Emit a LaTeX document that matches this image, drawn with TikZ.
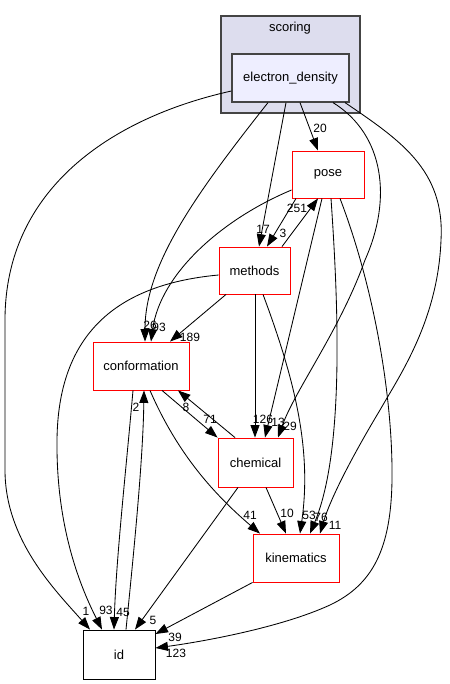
\documentclass[tikz,border=0pt]{standalone}
\usepackage{fontspec}
\setmainfont{Liberation Sans}
\usetikzlibrary{arrows.meta}
\definecolor{clfill}{RGB}{221,221,238}
\definecolor{edfill}{RGB}{238,238,255}
\definecolor{clline}{RGB}{68,68,68}
\definecolor{boxred}{RGB}{255,0,0}
\begin{document}
\begin{tikzpicture}[x=1pt,y=-1pt,
  nodebox/.style={draw=boxred, line width=0.9pt, inner sep=0pt, fill=white, font=\fontsize{13}{15}\selectfont},
  plainbox/.style={draw=black, line width=0.9pt, inner sep=0pt, fill=white, font=\fontsize{13}{15}\selectfont},
  edbox/.style={draw=clline, line width=1.2pt, inner sep=0pt, fill=edfill, font=\fontsize{13}{15}\selectfont},
  clusterbox/.style={draw=clline, line width=1.1pt, inner sep=0pt, fill=clfill},
  lbl/.style={font=\fontsize{12}{14}\selectfont, inner sep=0pt},
  edge/.style={line width=0.85pt, -{Triangle[length=12.5pt,width=9pt]}}]
\useasboundingbox (0,0) rectangle (449,684);
\node[clusterbox, minimum width=139pt, minimum height=97pt] (scoring) at (290.5,64.5) {};
\node[inner sep=0pt, font=\fontsize{13}{15}\selectfont] (scoringlbl) at (290,28) {scoring};
\node[edbox, minimum width=117pt, minimum height=48pt] (ed) at (290.5,78) {electron\_density};
\node[nodebox, minimum width=72pt, minimum height=47pt] (pose) at (328,174.5) {pose};
\node[nodebox, minimum width=71pt, minimum height=47pt] (methods) at (254.5,270.5) {methods};
\node[nodebox, minimum width=96pt, minimum height=48pt] (conf) at (141,366) {conformation};
\node[nodebox, minimum width=75pt, minimum height=49pt] (chem) at (255.5,462.5) {chemical};
\node[nodebox, minimum width=86pt, minimum height=48pt] (kin) at (296,558) {kinematics};
\node[plainbox, minimum width=72pt, minimum height=49pt] (id) at (119,654.5) {id};

% edges
\draw[edge] ([yshift=-13pt]ed.west) .. controls (110,118) and (5,190) .. (5,320) -- (5,470) .. controls (5,540) and (55,590) .. ([xshift=-29pt]id.north);
\draw[edge] ([xshift=-22.5pt]ed.south) .. controls (195,195) and (145,265) .. ([xshift=4pt]conf.north);
\draw[edge] ([yshift=-15.5pt]pose.west) .. controls (220,220) and (160,275) .. ([xshift=10pt]conf.north);
\draw[edge] ([xshift=-28.5pt]methods.south) -- ([xshift=29pt]conf.north);
\draw[edge] ([yshift=-4.5pt]methods.west) .. controls (110,285) and (58,340) .. (57,440) .. controls (56,530) and (82,590) .. ([xshift=-17pt]id.north);
\draw[edge] ([xshift=-8pt]conf.south) .. controls (126,470) and (116,560) .. ([xshift=-5pt]id.north);
\draw[edge] ([xshift=7pt]id.north) .. controls (134,550) and (143,460) .. ([xshift=3pt]conf.south);
\draw[edge] ([xshift=9pt]conf.south) .. controls (178,455) and (215,495) .. ([xshift=-36pt]kin.north);
\draw[edge] ([xshift=21pt]conf.south) -- (chem.north west);
\draw[edge] ([xshift=-20.5pt]chem.north) -- ([xshift=37pt]conf.south);
\draw[edge] ([xshift=-17.5pt]chem.south) -- ([xshift=16pt]id.north);
\draw[edge] ([xshift=10.5pt]chem.south) -- ([xshift=-10pt]kin.north);
\draw[edge] (kin.south west) -- ([yshift=20.5pt]id.east);
\draw[edge] ([xshift=12pt]pose.south) .. controls (375,290) and (393,400) .. (392,480) .. controls (391,550) and (372,585) .. (330,605) .. controls (280,628) and (200,642) .. ([yshift=6.5pt]id.east);
\draw[edge] ([xshift=-4.5pt]ed.south) -- ([xshift=4.5pt]methods.north);
\draw[edge] ([xshift=-32pt]pose.south) -- ([xshift=12.5pt]methods.north);
\draw[edge] ([xshift=27.5pt]methods.north) -- ([xshift=-10pt]pose.south);
\draw[edge] ([xshift=9.5pt]ed.south) -- ([xshift=-10pt]pose.north);
\draw[edge] ([xshift=-6pt]pose.south) -- ([xshift=9.5pt]chem.north);
\draw[edge] ([xshift=0.5pt]methods.south) -- ([xshift=-0.5pt]chem.north);
\draw[edge] ([xshift=42.5pt]ed.south) .. controls (385,135) and (392,200) .. (365,260) .. controls (340,330) and (295,390) .. ([xshift=22.5pt]chem.north);
\draw[edge] ([xshift=8.5pt]methods.south) .. controls (295,380) and (312,450) .. ([xshift=4pt]kin.north);
\draw[edge] ([xshift=3pt]pose.south) .. controls (338,300) and (345,450) .. ([xshift=14pt]kin.north);
\draw[edge] ([xshift=54.5pt]ed.south) .. controls (400,140) and (445,170) .. (441,240) .. controls (438,320) and (400,375) .. (380,410) .. controls (350,460) and (330,500) .. ([xshift=24pt]kin.north);

% labels
\node[lbl] (l1) at (86,611) {1};
\node[lbl] (l93a) at (106,610) {93};
\node[lbl] (l45) at (123,612) {45};
\node[lbl] (l5) at (153,620) {5};
\node[lbl] (l39) at (175,637) {39};
\node[lbl] (l123) at (176,653) {123};
\node[lbl] (l41) at (250,515) {41};
\node[lbl] (l10) at (287,513) {10};
\node[lbl] (l53) at (309,515) {53};
\node[lbl] (l76) at (321,517) {76};
\node[lbl] (l11) at (335,525) {11};
\node[lbl] (l126) at (263,419) {126};
\node[lbl] (l13) at (278,422) {13};
\node[lbl] (l29) at (290,426) {29};
\node[lbl] (l26) at (150,325) {26};
\node[lbl] (l93b) at (159,327) {93};
\node[lbl] (l189) at (190,337) {189};
\node[lbl] (l2) at (136,407) {2};
\node[lbl] (l8) at (186,407) {8};
\node[lbl] (l71) at (210,419) {71};
\node[lbl] (l251) at (297,208) {251};
\node[lbl] (l17) at (263,229) {17};
\node[lbl] (l3) at (283,233) {3};
\node[lbl] (l20) at (320,128) {20};
\end{tikzpicture}
\end{document}
